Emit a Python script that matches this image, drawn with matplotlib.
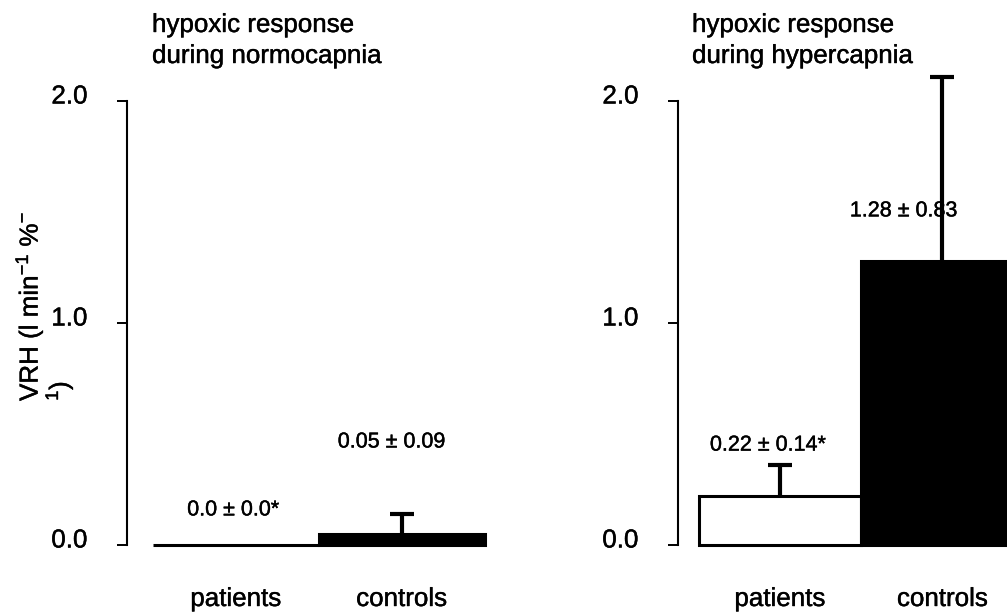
import matplotlib
matplotlib.use("Agg")
import matplotlib.pyplot as plt
import matplotlib.patheffects as pe
from matplotlib.transforms import ScaledTranslation, blended_transform_factory

# Hypoxic ventilatory response (mean ± SD)
groups = ["patients", "controls"]
normo_mean = [0.0, 0.05]
normo_sd = [0.0, 0.09]
normo_labels = ["0.0 ± 0.0*", "0.05 ± 0.09"]
hyper_mean = [0.22, 1.28]
hyper_sd = [0.14, 0.83]
hyper_labels = ["0.22 ± 0.14*", "1.28 ± 0.83"]
title_lines = [["hypoxic response", "during normocapnia"],
               ["hypoxic response", "during hypercapnia"]]
yticks = [0.0, 1.0, 2.0]
ytick_labels = ["0.0", "1.0", "2.0"]

plt.rcParams["font.family"] = ["Liberation Sans", "DejaVu Sans"]
plt.rcParams["mathtext.fontset"] = "custom"
plt.rcParams["mathtext.rm"] = "Liberation Sans"
plt.rcParams["mathtext.it"] = "Liberation Sans:italic"
plt.rcParams["mathtext.bf"] = "Liberation Sans:bold"

W, H = 1007, 615
fig = plt.figure(figsize=(W / 100, H / 100), dpi=100)
BIG = 18.7
SMALL = 15.5
heavy = [pe.withStroke(linewidth=0.3, foreground="black")]


def px_axes(left, right, bottom, top):
    return fig.add_axes([left / W, 1 - bottom / H, (right - left) / W, (bottom - top) / H])


def fy(ypx):
    return 1 - ypx / H


panels = [
    dict(ax=px_axes(127, 505, 545, 101), xlim=(-0.657, 1.623), mean=normo_mean, sd=normo_sd,
         labels=normo_labels, title=title_lines[0], title_x=152,
         label_pos=[(-0.015, 0.158), (0.94, 0.464)]),
    dict(ax=px_axes(678, 1007, 545, 101), xlim=(-0.628, 1.397), mean=hyper_mean, sd=hyper_sd,
         labels=hyper_labels, title=title_lines[1], title_x=692,
         label_pos=[(-0.074, 0.45), (0.76, 1.505)]),
]

colors = ["white", "black"]
x = [0, 1]

for p in panels:
    ax = p["ax"]
    ax.set_xlim(*p["xlim"])
    ax.set_ylim(0, 2.0)
    ax.bar(x, p["mean"], width=1.0, color=colors, edgecolor="black", linewidth=2.2,
           clip_on=False, zorder=2)
    for xi, m, s in zip(x, p["mean"], p["sd"]):
        if s > 0:
            _, caps, _ = ax.errorbar(xi, m, yerr=[[0], [s]], fmt="none", ecolor="black",
                                     elinewidth=3, capsize=8.6, capthick=3,
                                     clip_on=False, zorder=3)
            caps[0].set_visible(False)  # only the upper cap is drawn
    for (xi, yi), txt in zip(p["label_pos"], p["labels"]):
        ax.text(xi, yi, txt, ha="center", va="center", fontsize=SMALL, zorder=2.5,
                path_effects=heavy)

    xlab_tr = blended_transform_factory(ax.transData, fig.transFigure)
    for xi, g in zip(x, groups):
        ax.text(xi, fy(606), g, ha="center", va="baseline", fontsize=BIG,
                transform=xlab_tr, clip_on=False, path_effects=heavy)

    for line, base in zip(p["title"], [32, 63]):
        fig.text(p["title_x"] / W, fy(base), line, ha="left", va="baseline", fontsize=BIG,
                 path_effects=heavy)

    for side in ["top", "right", "bottom"]:
        ax.spines[side].set_visible(False)
    ax.spines["left"].set_linewidth(1.5)
    ax.set_xticks([])
    ax.set_yticks(yticks)
    ax.set_yticklabels(ytick_labels, fontsize=BIG)
    ax.tick_params(axis="y", direction="out", length=7, width=1.4, pad=21.5)
    lift = ScaledTranslation(0, 7 / 100, fig.dpi_scale_trans)
    for lab in ax.get_yticklabels():
        lab.set_transform(lab.get_transform() + lift)
        lab.set_path_effects(heavy)
    ax.patch.set_alpha(0)

# y-axis label, wrapped onto two rotated lines
fig.text(13 / W, fy(401), "VRH (l min$^{-1}$ %$^{-}$", rotation=90,
         ha="left", va="bottom", fontsize=BIG, path_effects=heavy)
fig.text(43 / W, fy(401), "${}^{1}$)", rotation=90,
         ha="left", va="bottom", fontsize=BIG, path_effects=heavy)

fig.savefig("out.png", dpi=100)
